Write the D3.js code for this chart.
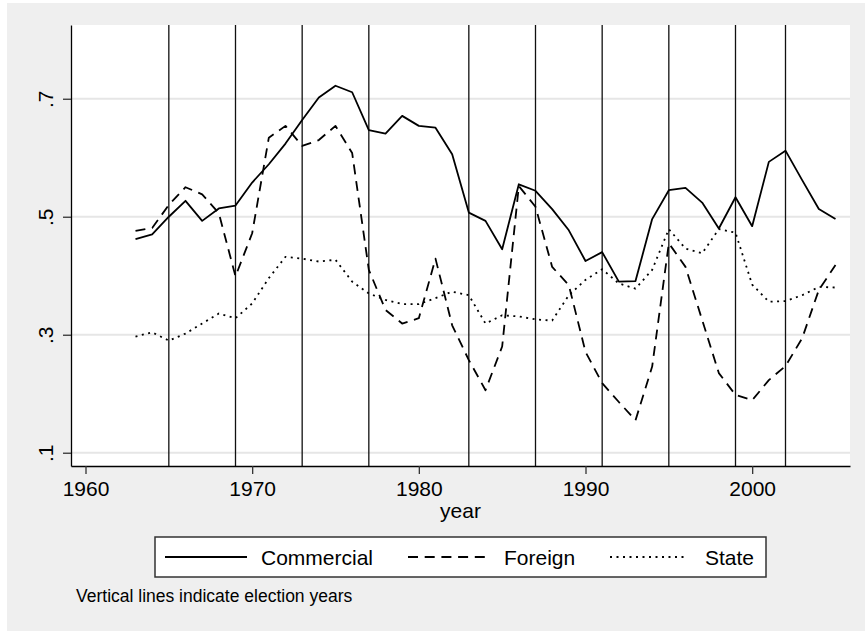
<!DOCTYPE html>
<html>
<head>
<meta charset="utf-8">
<script src="https://cdn.jsdelivr.net/npm/d3@7"></script>
<style>
    body { margin: 0; background: #ffffff; }
    svg text { font-family: "Liberation Sans", Arial, Helvetica, sans-serif; fill: #000; }
</style>
</head>
<body>
<svg id="chart"></svg>
<script>

var years = [1963, 1964, 1965, 1966, 1967, 1968, 1969, 1970, 1971, 1972,
    1973, 1974, 1975, 1976, 1977, 1978, 1979, 1980, 1981, 1982,
    1983, 1984, 1985, 1986, 1987, 1988, 1989, 1990, 1991, 1992,
    1993, 1994, 1995, 1996, 1997, 1998, 1999, 2000, 2001, 2002,
    2003, 2004, 2005];

var commercial = [0.462, 0.470, 0.500, 0.527, 0.493, 0.514, 0.519, 0.558, 0.589, 0.624,
    0.664, 0.702, 0.722, 0.711, 0.647, 0.641, 0.671, 0.654, 0.651, 0.606,
    0.507, 0.493, 0.445, 0.555, 0.544, 0.513, 0.477, 0.425, 0.440, 0.390,
    0.391, 0.496, 0.545, 0.549, 0.524, 0.480, 0.533, 0.484, 0.593, 0.612,
    0.562, 0.513, 0.496];

var foreign = [0.476, 0.481, 0.520, 0.550, 0.538, 0.506, 0.399, 0.472, 0.634, 0.654,
    0.620, 0.630, 0.654, 0.608, 0.410, 0.342, 0.319, 0.328, 0.429, 0.316,
    0.257, 0.206, 0.280, 0.552, 0.517, 0.415, 0.384, 0.271, 0.218, 0.186,
    0.155, 0.246, 0.455, 0.415, 0.325, 0.235, 0.198, 0.189, 0.223, 0.247,
    0.294, 0.376, 0.418];

var state = [0.297, 0.304, 0.290, 0.302, 0.319, 0.336, 0.328, 0.353, 0.396, 0.432,
    0.429, 0.424, 0.427, 0.390, 0.370, 0.359, 0.352, 0.352, 0.362, 0.373,
    0.367, 0.319, 0.333, 0.331, 0.326, 0.324, 0.367, 0.393, 0.411, 0.387,
    0.378, 0.410, 0.479, 0.446, 0.438, 0.479, 0.473, 0.385, 0.356, 0.357,
    0.367, 0.381, 0.380];

var electionYears = [1965, 1969, 1973, 1977, 1983, 1987, 1991, 1995, 1999, 2002];

var seriesNames = ['Commercial', 'Foreign', 'State'];

var xTicks = [1960, 1970, 1980, 1990, 2000];
var yTicks = [0.1, 0.3, 0.5, 0.7];
var yTickLabels = ['.1', '.3', '.5', '.7'];

var xTitle = 'year';
var note = 'Vertical lines indicate election years';

var w = 865, h = 631;
var margin = { top: 25, right: 15, bottom: 165, left: 71 };
var width = w - margin.left - margin.right;
var height = h - margin.top - margin.bottom;

var dashes = ['none', '10,6.7', '2,4.5'];

var svg = d3.select('#chart')
    .attr('width', w)
    .attr('height', h);

// stata style outer frame
svg.append('rect')
    .attr('x', 7)
    .attr('y', 3)
    .attr('width', w - 7)
    .attr('height', h - 3)
    .attr('fill', '#efefef');

var x = d3.scaleLinear().domain([1959.13, 2005.87]).range([0, width]);
var y = d3.scaleLinear().domain([0.0775, 0.8250]).range([height, 0]);

var graph = svg.append('g')
    .attr('transform', 'translate(' + margin.left + ',' + margin.top + ')');

graph.append('rect')
    .attr('width', width)
    .attr('height', height)
    .attr('fill', '#ffffff');

graph.append('g')
    .attr('class', 'grid')
    .selectAll('line')
    .data(yTicks)
    .enter().append('line')
    .attr('x1', 0)
    .attr('x2', width)
    .attr('y1', function (d) { return y(d); })
    .attr('y2', function (d) { return y(d); })
    .attr('stroke', '#e6e6e6')
    .attr('stroke-width', 2);

graph.append('g')
    .attr('class', 'elections')
    .selectAll('line')
    .data(electionYears)
    .enter().append('line')
    .attr('x1', function (d) { return x(d); })
    .attr('x2', function (d) { return x(d); })
    .attr('y1', 0)
    .attr('y2', height)
    .attr('stroke', '#111')
    .attr('stroke-width', 1.3);

var series = [commercial, foreign, state];

var line = d3.line()
    .x(function (d, i) { return x(years[i]); })
    .y(function (d) { return y(d); });

graph.append('g')
    .attr('class', 'series')
    .selectAll('path')
    .data(series)
    .enter().append('path')
    .attr('d', function (d) { return line(d); })
    .attr('fill', 'none')
    .attr('stroke', '#000')
    .attr('stroke-width', 1.8)
    .attr('stroke-linejoin', 'round')
    .attr('stroke-dasharray', function (d, i) { return dashes[i]; });

var xAxis = d3.axisBottom(x)
    .tickValues(xTicks)
    .tickSize(8)
    .tickSizeOuter(0)
    .tickFormat(d3.format('d'));

var yAxis = d3.axisLeft(y)
    .tickValues(yTicks)
    .tickSize(8)
    .tickSizeOuter(0)
    .tickFormat(function (d, i) { return yTickLabels[i]; });

var gx = graph.append('g')
    .attr('transform', 'translate(0,' + height + ')')
    .call(xAxis);

gx.selectAll('text')
    .attr('y', 30)
    .attr('dy', 0)
    .style('font-size', '21px');

var gy = graph.append('g')
    .call(yAxis);

gy.selectAll('text')
    .attr('transform', 'rotate(-90)')
    .attr('x', 0)
    .attr('y', -18)
    .attr('dy', 0)
    .attr('text-anchor', 'middle')
    .style('font-size', '21px');

[gx, gy].forEach(function (g) {
    g.select('.domain').attr('stroke', '#000').attr('stroke-width', 1.3);
    g.selectAll('.tick line').attr('stroke', '#333').attr('stroke-width', 1.3);
});

graph.append('text')
    .attr('x', width / 2)
    .attr('y', height + 52)
    .attr('text-anchor', 'middle')
    .style('font-size', '21px')
    .text(xTitle);

// legend
var legend = svg.append('g')
    .attr('transform', 'translate(155,537)');

legend.append('rect')
    .attr('width', 611)
    .attr('height', 40)
    .attr('fill', '#ffffff')
    .attr('stroke', '#333')
    .attr('stroke-width', 1.5);

var legendX = [10, 253, 455];
var legendLen = [82, 82, 78];
var legendGap = [14, 14, 17];

var item = legend.selectAll('g.item')
    .data(seriesNames)
    .enter().append('g')
    .attr('class', 'item')
    .attr('transform', function (d, i) { return 'translate(' + legendX[i] + ',0)'; });

item.append('line')
    .attr('x1', 0)
    .attr('x2', function (d, i) { return legendLen[i]; })
    .attr('y1', 20)
    .attr('y2', 20)
    .attr('stroke', '#000')
    .attr('stroke-width', 1.8)
    .attr('stroke-dasharray', function (d, i) { return dashes[i]; });

item.append('text')
    .attr('x', function (d, i) { return legendLen[i] + legendGap[i]; })
    .attr('y', 28)
    .style('font-size', '21px')
    .text(function (d) { return d; });

svg.append('text')
    .attr('x', 76)
    .attr('y', 602)
    .style('font-size', '17.5px')
    .text(note);

</script>
</body>
</html>
